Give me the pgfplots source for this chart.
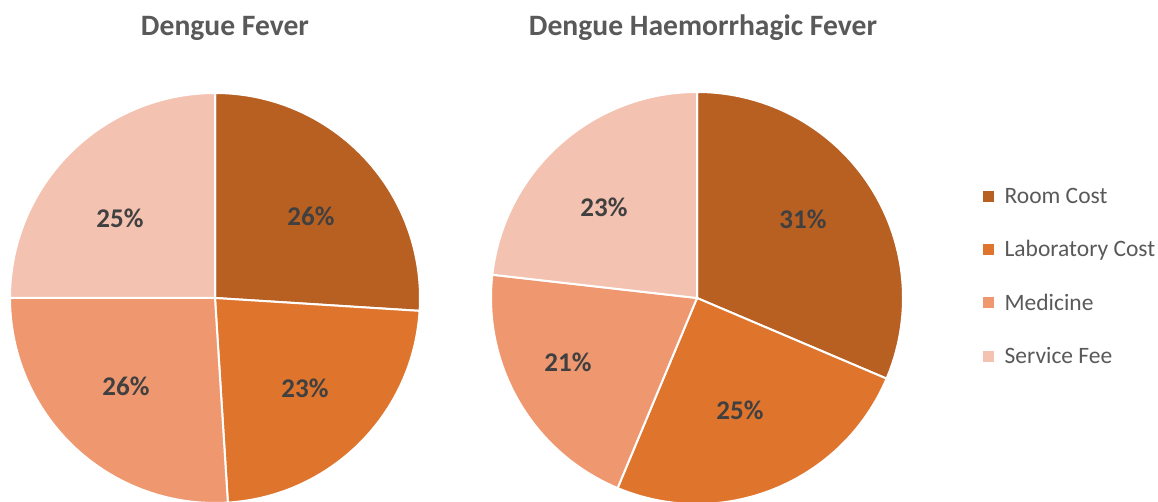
\documentclass[border=0pt]{standalone}
\usepackage{fontspec}
\setmainfont{Carlito}
\usepackage{pgfplots}
\pgfplotsset{compat=1.18}
\definecolor{room}{HTML}{B85F22}
\definecolor{lab}{HTML}{DF742D}
\definecolor{med}{HTML}{EF9870}
\definecolor{serv}{HTML}{F4C2B0}
\definecolor{ttl}{HTML}{595959}
\definecolor{lbl}{HTML}{404040}
\begin{document}
\begin{tikzpicture}
\useasboundingbox (0,0) rectangle (1158pt,502pt);
\begin{axis}[
  x=1pt, y=1pt, xmin=0, xmax=1158, ymin=0, ymax=502,
  hide axis, clip=true,
  legend image code/.code={\fill[#1] (0pt,-5pt) rectangle (10pt,5pt); \path (16pt,0pt);},
  legend style={at={(axis cs:980,318)}, anchor=north west, draw=none, fill=none,
    font=\fontsize{23.5}{28}\selectfont, text=ttl, row sep=31.5pt,
    nodes={inner xsep=5pt}},
  legend cell align=left,
]
\path (axis cs:0,0) rectangle (axis cs:1158,502);
% Dengue Fever: Room 26, Lab 23, Medicine 26, Service 25
\fill[room, draw=white, line width=2pt] (axis cs:215,204) -- ++(90:205pt) arc[start angle=90, delta angle=-26*3.6, radius=205pt] -- cycle;
\fill[lab, draw=white, line width=2pt] (axis cs:215,204) -- ++(90-26*3.6:205pt) arc[start angle=90-26*3.6, delta angle=-23*3.6, radius=205pt] -- cycle;
\fill[med, draw=white, line width=2pt] (axis cs:215,204) -- ++(90-49*3.6:205pt) arc[start angle=90-49*3.6, delta angle=-26*3.6, radius=205pt] -- cycle;
\fill[serv, draw=white, line width=2pt] (axis cs:215,204) -- ++(90-75*3.6:205pt) arc[start angle=90-75*3.6, delta angle=-25*3.6, radius=205pt] -- cycle;
% Dengue Haemorrhagic Fever: Room 31.4, Lab 24.9, Medicine 20.5, Service 23.2
\fill[room, draw=white, line width=2pt] (axis cs:697,204) -- ++(90:206pt) arc[start angle=90, delta angle=-31.4*3.6, radius=206pt] -- cycle;
\fill[lab, draw=white, line width=2pt] (axis cs:697,204) -- ++(90-31.4*3.6:206pt) arc[start angle=90-31.4*3.6, delta angle=-24.9*3.6, radius=206pt] -- cycle;
\fill[med, draw=white, line width=2pt] (axis cs:697,204) -- ++(90-56.3*3.6:206pt) arc[start angle=90-56.3*3.6, delta angle=-20.5*3.6, radius=206pt] -- cycle;
\fill[serv, draw=white, line width=2pt] (axis cs:697,204) -- ++(90-76.8*3.6:206pt) arc[start angle=90-76.8*3.6, delta angle=-23.2*3.6, radius=206pt] -- cycle;
% labels
\begin{scope}[every node/.style={font=\fontsize{27}{32}\selectfont\bfseries, text=lbl}]
\node at (axis cs:311,286) {26\%};
\node at (axis cs:305,114) {23\%};
\node at (axis cs:126,116) {26\%};
\node at (axis cs:120,284) {25\%};
\node at (axis cs:803,283) {31\%};
\node at (axis cs:740,92) {25\%};
\node at (axis cs:568,140) {21\%};
\node at (axis cs:604,295) {23\%};
\end{scope}
\node[font=\fontsize{29.6}{35}\selectfont\bfseries, text=ttl] at (axis cs:225,474) {Dengue Fever};
\node[font=\fontsize{29.6}{35}\selectfont\bfseries, text=ttl] at (axis cs:703,474) {Dengue Haemorrhagic Fever};
\addlegendimage{room}\addlegendentry{Room Cost}
\addlegendimage{lab}\addlegendentry{Laboratory Cost}
\addlegendimage{med}\addlegendentry{Medicine}
\addlegendimage{serv}\addlegendentry{Service Fee}
\end{axis}
\end{tikzpicture}
\end{document}
